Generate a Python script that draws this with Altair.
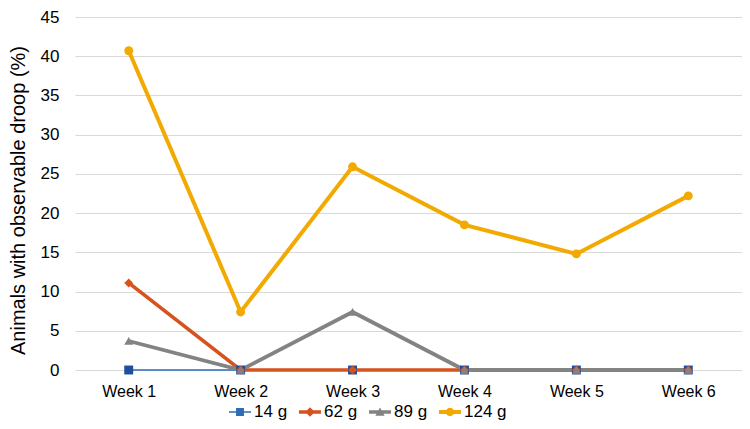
import altair as alt
import pandas as pd

weeks = ["Week 1", "Week 2", "Week 3", "Week 4", "Week 5", "Week 6"]
series_names = ["14 g", "62 g", "89 g", "124 g"]
vals_14 = [0, 0, 0, 0, 0, 0]
vals_62 = [11.1, 0, 0, 0, 0, 0]
vals_89 = [3.7, 0, 7.4, 0, 0, 0]
vals_124 = [40.7, 7.4, 25.9, 18.5, 14.8, 22.2]
y_ticks = [0, 5, 10, 15, 20, 25, 30, 35, 40, 45]

colors = ["#2E6DB4", "#D6521E", "#838383", "#F2A900"]
marker_colors = ["#1F4E9C", "#D6521E", "#838383", "#F2A900"]
widths = [1.5, 3.6, 3.8, 4.0]
shapes = ["square", "diamond", "triangle-up", "circle"]

rows = []
for name, vals in zip(series_names, [vals_14, vals_62, vals_89, vals_124]):
    for i, (w, v) in enumerate(zip(weeks, vals)):
        rows.append({"week": w, "value": v, "series": name, "idx": i})
df = pd.DataFrame(rows)


def bar(t, x0=-1, x1=1):
    return f"M{x0},{-t}H{x1}V{t}H{x0}Z"


leg_paths = [
    bar(0.07) + "M-0.36,-0.36H0.36V0.36H-0.36Z",
    bar(0.16) + "M0,-0.44L0.44,0L0,0.44L-0.44,0Z",
    bar(0.17) + "M0,-0.42L0.42,0.34L-0.42,0.34Z",
    bar(0.18) + "M-0.38,0A0.38,0.38,0,1,1,0.38,0A0.38,0.38,0,1,1,-0.38,0Z",
]

FONT = "Liberation Sans"

x_enc = alt.X("week:N", sort=weeks, scale=alt.Scale(type="point", padding=0.48),
              axis=alt.Axis(title=None, labelAngle=0, domain=False, ticks=False, grid=False,
                            labelFontSize=16, labelColor="#000000", labelPadding=13,
                            labelFont=FONT))
y_enc = alt.Y("value:Q", scale=alt.Scale(domain=[0, 45], nice=False),
              axis=alt.Axis(title="Animals with observable droop (%)", values=y_ticks,
                            labelOverlap=False, tickCount=10,
                            domain=False, ticks=False, gridColor="#d9d9d9", gridWidth=1,
                            labelFontSize=17, labelColor="#000000", labelPadding=16,
                            labelFont=FONT, titleFont=FONT,
                            titleFontSize=20, titleFontWeight="normal", titleColor="#000000",
                            titleX=-57, titleY=183, titleBaseline="middle", titleAngle=270))

lines = alt.Chart(df).mark_line().encode(
    x=x_enc,
    y=y_enc,
    color=alt.Color("series:N", scale=alt.Scale(domain=series_names, range=colors), legend=None),
    strokeWidth=alt.StrokeWidth("series:N", scale=alt.Scale(type="ordinal", domain=series_names, range=widths), legend=None),
    order="idx:Q",
)

points = alt.Chart(df).mark_point(filled=True, opacity=1, size=80).encode(
    x=alt.X("week:N", sort=weeks),
    y="value:Q",
    color=alt.Color("series:N", scale=alt.Scale(domain=series_names, range=marker_colors), legend=None),
    shape=alt.Shape("series:N", scale=alt.Scale(domain=series_names, range=shapes), legend=None),
)

leg_props = dict(title=None, orient="none", legendX=154, legendY=384,
                 direction="horizontal", labelFontSize=17,
                 labelFont=FONT, labelColor="#000000",
                 symbolSize=484, labelOffset=3, columnPadding=11,
                 symbolStrokeWidth=0)

legend_layer = alt.Chart(df).transform_filter("false").mark_point(
    filled=True, opacity=1, size=484, strokeWidth=0
).encode(
    color=alt.Color("series:N", scale=alt.Scale(domain=series_names, range=colors),
                    legend=alt.Legend(**leg_props)),
    shape=alt.Shape("series:N", scale=alt.Scale(domain=series_names, range=leg_paths),
                    legend=alt.Legend(**leg_props)),
)

chart = alt.layer(lines, points, legend_layer).resolve_scale(
    color="independent", shape="independent", strokeWidth="independent"
).properties(
    width=667, height=353,
    autosize=alt.AutoSizeParams(type="none"),
    padding={"left": 67, "top": 9, "right": 0, "bottom": 51},
).configure_view(stroke=None)

chart.save("out.html", embed_options={"renderer": "svg", "actions": False})
